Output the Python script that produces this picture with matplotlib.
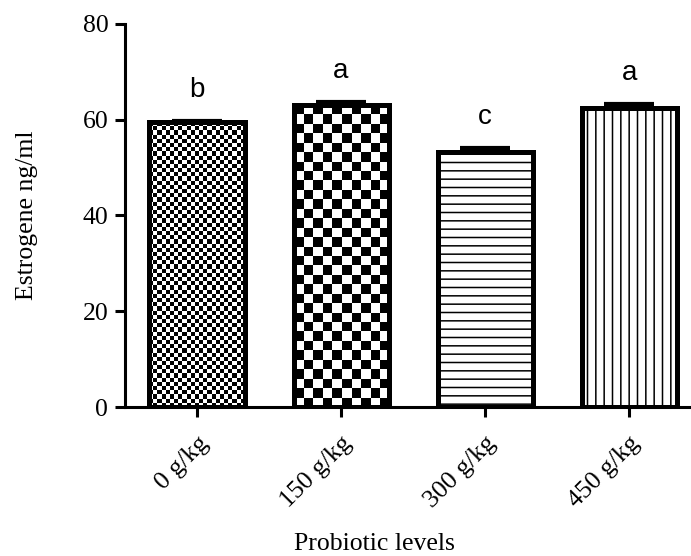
import numpy as np
import matplotlib
matplotlib.use("Agg")
from matplotlib import pyplot as plt

levels = ["0 g/kg", "150 g/kg", "300 g/kg", "450 g/kg"]
estrogen = [59.5, 63.0, 53.3, 62.4]
sem = [0.3, 0.8, 0.8, 0.9]
letters = ["b", "a", "c", "a"]

plt.rcParams['hatch.linewidth'] = 1.1
serif = ['Liberation Serif', 'DejaVu Serif']

fig = plt.figure(figsize=(6.91, 5.56), dpi=100)
ax = fig.add_axes([125 / 691, 149 / 556, 566 / 691, 383 / 556])

x = np.arange(len(levels))
ax.set_xlim(-0.5, 3.43)
ax.set_ylim(0, 80)

hatches = [None, None, '--', '||']
bars = ax.bar(x, estrogen, width=0.66, facecolor='none', edgecolor='black',
              linewidth=3.6, zorder=3)
for b, h in zip(bars, hatches):
    if h:
        b.set_hatch(h)

# checkerboards for the first two bars (cell size in pixels)
fig.canvas.draw()
for b, cell in zip(bars[:2], [4.2, 9.5]):
    x0, y0 = b.get_x(), b.get_y()
    w, h = b.get_width(), b.get_height()
    p0 = ax.transData.transform((x0, y0))
    p1 = ax.transData.transform((x0 + w, y0 + h))
    nx = int(round((p1[0] - p0[0]) / cell))
    ny = int(round((p1[1] - p0[1]) / cell))
    img = np.add.outer(np.arange(ny), np.arange(nx)) % 2
    im = ax.imshow(img, cmap='gray', extent=[x0, x0 + w, y0, y0 + h],
                   aspect='auto', interpolation='nearest', zorder=2)
    im.set_clip_path(b)
ax.set_xlim(-0.5, 3.43)
ax.set_ylim(0, 80)

ax.errorbar(x, estrogen, yerr=[np.zeros(len(sem)), sem], fmt='none',
            ecolor='black', elinewidth=3, capsize=18, capthick=3, zorder=4)

for xi, v, e, t in zip(x, estrogen, sem, letters):
    ax.text(xi, v + e + 5, t, ha='center', va='baseline', fontsize=20,
            family=['Liberation Sans', 'DejaVu Sans'])

for s in ['top', 'right']:
    ax.spines[s].set_visible(False)
for s in ['left', 'bottom']:
    ax.spines[s].set_linewidth(2.2)

ax.set_yticks([0, 20, 40, 60, 80])
ax.set_xticks(x)
ax.set_xticklabels(levels, rotation=45, ha='right', va='top',
                   rotation_mode='anchor', family=serif, fontsize=18.5)
for lab in ax.get_yticklabels():
    lab.set_family(serif)
    lab.set_fontsize(18.5)
ax.tick_params(length=7, width=2.2, pad=5)
ax.tick_params(axis='x', pad=11)

ax.set_ylabel("Estrogene ng/ml", family=serif, fontsize=18.5)
ax.yaxis.set_label_coords(-0.154, 0.5)
ax.set_xlabel("Probiotic levels", family=serif, fontsize=18.5)
ax.xaxis.set_label_coords(0.44, -0.33)

fig.savefig("out.png", dpi=100)
